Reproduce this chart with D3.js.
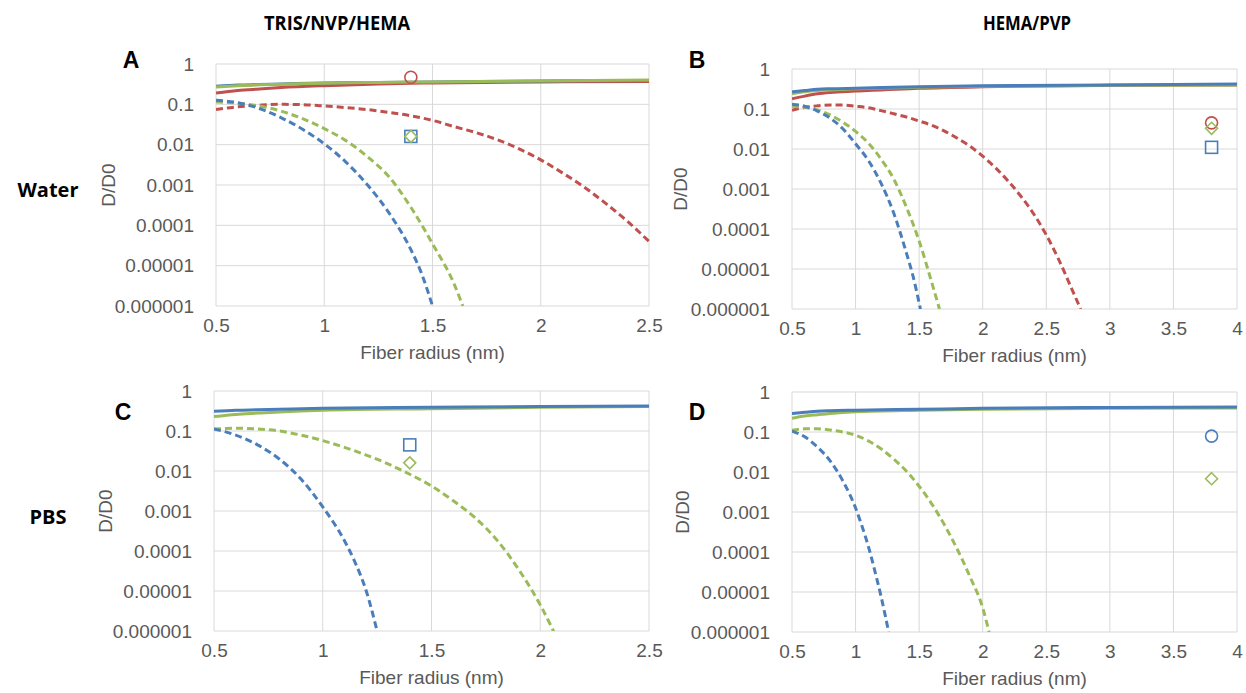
<!DOCTYPE html>
<html>
<head>
<meta charset="utf-8">
<script src="https://cdn.jsdelivr.net/npm/d3@7"></script>
<style>
  body { margin: 0; background: #fff; }
  svg { display: block; }
</style>
</head>
<body>
<div id="chart"></div>
<script>
// ---- data (D/D0 vs fiber radius in nm) ----

// tick labels
var yTickValues = [1, 0.1, 0.01, 0.001, 0.0001, 0.00001, 0.000001];
var yTickLabels = ["1", "0.1", "0.01", "0.001", "0.0001", "0.00001", "0.000001"];
var xTicksShort = [0.5, 1, 1.5, 2, 2.5];
var xTicksLong = [0.5, 1, 1.5, 2, 2.5, 3, 3.5, 4];

// Panel A: TRIS/NVP/HEMA in water
var solidXA = [0.5, 0.6, 0.7, 0.8, 1, 1.25, 1.5, 2, 2.5];
var solidBlueA = [0.28, 0.30, 0.31, 0.32, 0.34, 0.35, 0.36, 0.38, 0.39];
var solidGreenA = [0.27, 0.29, 0.305, 0.315, 0.335, 0.35, 0.36, 0.38, 0.40];
var solidRedA = [0.19, 0.22, 0.24, 0.26, 0.29, 0.32, 0.34, 0.36, 0.37];
var dashBlueXA = [0.5, 0.6, 0.7, 0.8, 0.9, 1.0, 1.1, 1.2, 1.3, 1.4, 1.45, 1.5];
var dashBlueA = [0.126, 0.11, 0.079, 0.047, 0.024, 0.0105, 0.0037, 0.001, 2.0e-4, 2.5e-5, 6.3e-6, 1.0e-6];
var dashGreenXA = [0.5, 0.6, 0.7, 0.8, 0.9, 1.0, 1.1, 1.2, 1.3, 1.4, 1.5, 1.6, 1.64];
var dashGreenA = [0.115, 0.107, 0.091, 0.068, 0.044, 0.025, 0.0126, 0.005, 0.00158, 2.8e-4, 3.5e-5, 3.5e-6, 1.0e-6];
var dashRedXA = [0.5, 0.6, 0.7, 0.8, 0.9, 1.0, 1.1, 1.2, 1.3, 1.4, 1.5, 1.6, 1.7, 1.8, 1.9, 2.0, 2.1, 2.2, 2.3, 2.4, 2.5];
var dashRedA = [0.074, 0.087, 0.095, 0.1, 0.098, 0.091, 0.083, 0.074, 0.063, 0.052, 0.04, 0.028, 0.02, 0.0132, 0.0079, 0.0042, 0.002, 8.9e-4, 3.5e-4, 1.26e-4, 4.0e-5];
var markersA = [
  {x: 1.4, y: 0.47, shape: "circle", color: "red"},
  {x: 1.4, y: 0.016, shape: "square", color: "blue"},
  {x: 1.4, y: 0.016, shape: "diamond", color: "green"}
];

// Panel B: HEMA/PVP in water
var solidXB = [0.5, 0.6, 0.7, 0.8, 1, 1.5, 2, 3, 4];
var solidBlueB = [0.27, 0.29, 0.31, 0.32, 0.33, 0.36, 0.38, 0.40, 0.42];
var solidGreenB = [0.24, 0.27, 0.29, 0.30, 0.32, 0.35, 0.37, 0.39, 0.40];
var solidRedB = [0.18, 0.21, 0.24, 0.26, 0.28, 0.33, 0.36, 0.39, 0.40];
var dashBlueXB = [0.5, 0.6, 0.7, 0.8, 0.9, 1.0, 1.1, 1.2, 1.3, 1.4, 1.45, 1.51];
var dashBlueB = [0.132, 0.117, 0.089, 0.059, 0.032, 0.0135, 0.0052, 0.0014, 2.5e-4, 2.5e-5, 7.0e-6, 1.0e-6];
var dashGreenXB = [0.5, 0.6, 0.7, 0.8, 0.9, 1.0, 1.1, 1.2, 1.3, 1.4, 1.5, 1.6, 1.66];
var dashGreenB = [0.117, 0.11, 0.095, 0.071, 0.047, 0.0275, 0.0141, 0.0056, 0.00178, 3.5e-4, 5.0e-5, 4.5e-6, 1.0e-6];
var dashRedXB = [0.5, 0.6, 0.7, 0.8, 0.9, 1.0, 1.1, 1.2, 1.3, 1.4, 1.5, 1.6, 1.7, 1.8, 1.9, 2.0, 2.1, 2.2, 2.3, 2.4, 2.5, 2.6, 2.7, 2.77];
var dashRedB = [0.093, 0.11, 0.12, 0.126, 0.126, 0.117, 0.107, 0.091, 0.076, 0.063, 0.05, 0.039, 0.028, 0.0186, 0.0117, 0.0066, 0.0034, 0.00158, 6.6e-4, 2.4e-4, 7.1e-5, 1.66e-5, 3.2e-6, 1.0e-6];
var markersB = [
  {x: 3.8, y: 0.045, shape: "circle", color: "red"},
  {x: 3.8, y: 0.033, shape: "diamond", color: "green"},
  {x: 3.8, y: 0.011, shape: "square", color: "blue"}
];

// Panel C: TRIS/NVP/HEMA in PBS
var solidXC = [0.5, 0.6, 0.7, 0.8, 1, 1.5, 2, 2.5];
var solidBlueC = [0.31, 0.33, 0.34, 0.35, 0.37, 0.39, 0.41, 0.42];
var solidGreenC = [0.23, 0.26, 0.28, 0.30, 0.33, 0.36, 0.39, 0.41];
var dashBlueXC = [0.5, 0.6, 0.7, 0.8, 0.9, 1.0, 1.1, 1.15, 1.2, 1.25];
var dashBlueC = [0.112, 0.079, 0.045, 0.02, 0.0063, 0.00126, 1.8e-4, 5.0e-5, 1.0e-5, 1.0e-6];
var dashGreenXC = [0.5, 0.6, 0.7, 0.8, 0.9, 1.0, 1.1, 1.2, 1.3, 1.4, 1.5, 1.6, 1.7, 1.8, 1.9, 2.0, 2.1];
var dashGreenC = [0.112, 0.117, 0.112, 0.1, 0.079, 0.0575, 0.039, 0.025, 0.0151, 0.0083, 0.0042, 0.0018, 6.8e-4, 1.9e-4, 3.5e-5, 4.5e-6, 3.5e-7];
var markersC = [
  {x: 1.4, y: 0.045, shape: "square", color: "blue"},
  {x: 1.4, y: 0.016, shape: "diamond", color: "green"}
];

// Panel D: HEMA/PVP in PBS
var solidXD = [0.5, 0.6, 0.7, 0.8, 1, 1.5, 2, 3, 4];
var solidBlueD = [0.29, 0.31, 0.33, 0.34, 0.35, 0.37, 0.39, 0.41, 0.42];
var solidGreenD = [0.22, 0.25, 0.27, 0.29, 0.32, 0.35, 0.37, 0.39, 0.40];
var dashBlueXD = [0.5, 0.6, 0.7, 0.8, 0.9, 1.0, 1.05, 1.1, 1.15, 1.2, 1.26];
var dashBlueD = [0.105, 0.076, 0.042, 0.019, 0.006, 0.00126, 4.5e-4, 1.4e-4, 3.5e-5, 7.9e-6, 1.0e-6];
var dashGreenXD = [0.5, 0.6, 0.7, 0.8, 0.9, 1.0, 1.1, 1.2, 1.3, 1.4, 1.5, 1.6, 1.7, 1.8, 1.9, 2.0, 2.05];
var dashGreenD = [0.11, 0.12, 0.12, 0.112, 0.1, 0.083, 0.06, 0.038, 0.021, 0.0105, 0.0044, 0.00158, 4.7e-4, 1.17e-4, 2.4e-5, 4.0e-6, 1.0e-6];
var markersD = [
  {x: 3.8, y: 0.079, shape: "circle", color: "blue"},
  {x: 3.8, y: 0.0068, shape: "diamond", color: "green"}
];

// ---- styling ----
var colors = {blue: "#4a7ebb", green: "#9bbb59", red: "#c0504d"};
var tickFont = "'Liberation Sans', Arial, sans-serif";
var titleFont = "'Open Sans', 'Liberation Sans', Arial, sans-serif";

var svg = d3.select("#chart")
  .append("svg")
  .attr("width", 1246)
  .attr("height", 693);

svg.append("rect").attr("width", 1246).attr("height", 693).attr("fill", "#fff");

// zip x and y arrays into point objects
function pts(xs, ys) {
  return xs.map(function (x, i) { return {x: x, y: ys[i]}; });
}

function DrawPanel(o) {
  var x = d3.scaleLinear().domain([0.5, o.xMax]).range([o.left, o.right]);
  var y = d3.scaleLog().domain([1e-6, 1]).range([o.bottom, o.top]);
  var g = svg.append("g");

  // gridlines
  g.append("g").selectAll("line.h")
    .data(yTickValues).enter().append("line")
    .attr("x1", o.left).attr("x2", o.right)
    .attr("y1", function (d) { return y(d); })
    .attr("y2", function (d) { return y(d); })
    .attr("stroke", "#d9d9d9").attr("stroke-width", 1);
  g.append("g").selectAll("line.v")
    .data(o.xTicks).enter().append("line")
    .attr("y1", o.top).attr("y2", o.bottom)
    .attr("x1", function (d) { return x(d); })
    .attr("x2", function (d) { return x(d); })
    .attr("stroke", "#d9d9d9").attr("stroke-width", 1);

  // axes: labels only, no axis lines
  var yAxis = d3.axisLeft(y).tickValues(yTickValues)
    .tickFormat(function (d, i) { return yTickLabels[i]; })
    .tickSize(0).tickPadding(22);
  var ya = g.append("g").attr("transform", "translate(" + o.left + ",0)").call(yAxis);
  ya.select(".domain").remove();
  ya.selectAll("text").attr("font-family", tickFont).attr("font-size", 19).attr("fill", "#595959");

  var xAxis = d3.axisBottom(x).tickValues(o.xTicks)
    .tickFormat(d3.format("")).tickSize(0).tickPadding(13);
  var xa = g.append("g").attr("transform", "translate(0," + o.bottom + ")").call(xAxis);
  xa.select(".domain").remove();
  xa.selectAll("text").attr("font-family", tickFont).attr("font-size", 19).attr("fill", "#595959");

  // axis titles
  g.append("text")
    .attr("x", (o.left + o.right) / 2).attr("y", o.bottom + 53)
    .attr("text-anchor", "middle")
    .attr("font-family", tickFont).attr("font-size", 19).attr("fill", "#595959")
    .text("Fiber radius (nm)");
  g.append("text")
    .attr("transform", "translate(" + (o.left - o.yTitleOff) + "," + ((o.top + o.bottom) / 2) + ") rotate(-90)")
    .attr("text-anchor", "middle").attr("dy", "0.35em")
    .attr("font-family", tickFont).attr("font-size", 19).attr("fill", "#595959")
    .text("D/D0");

  // panel letter
  g.append("text")
    .attr("x", o.letterX).attr("y", o.letterY).attr("dy", "0.35em")
    .attr("text-anchor", "middle")
    .attr("font-family", "'Liberation Sans', Arial, sans-serif").attr("font-weight", "bold")
    .attr("font-size", 23).attr("fill", "#000")
    .text(o.letter);

  // clip the curves to the plot area
  var clipId = "clip" + o.letter;
  svg.append("clipPath").attr("id", clipId)
    .append("rect")
    .attr("x", o.left).attr("y", o.top - 4)
    .attr("width", o.right - o.left + 1).attr("height", o.bottom - o.top + 4);

  var line = d3.line()
    .x(function (d) { return x(d.x); })
    .y(function (d) { return y(d.y); })
    .curve(d3.curveMonotoneX);

  var lines = g.append("g").attr("clip-path", "url(#" + clipId + ")");
  o.dashed.forEach(function (s) {
    lines.append("path")
      .attr("d", line(s.points))
      .attr("fill", "none")
      .attr("stroke", colors[s.color])
      .attr("stroke-width", 3)
      .attr("stroke-dasharray", "7,4");
  });
  o.solid.forEach(function (s) {
    lines.append("path")
      .attr("d", line(s.points))
      .attr("fill", "none")
      .attr("stroke", colors[s.color])
      .attr("stroke-width", 3);
  });

  // open markers for measured values
  var mk = g.append("g");
  o.markers.forEach(function (m) {
    var cx = x(m.x), cy = y(m.y);
    if (m.shape === "circle") {
      mk.append("circle").attr("cx", cx).attr("cy", cy).attr("r", 6);
    } else if (m.shape === "square") {
      mk.append("rect").attr("x", cx - 6).attr("y", cy - 6).attr("width", 12).attr("height", 12);
    } else {
      mk.append("path").attr("d", "M" + cx + "," + (cy - 6) + "L" + (cx + 6) + "," + cy +
        "L" + cx + "," + (cy + 6) + "L" + (cx - 6) + "," + cy + "Z");
    }
    mk.selectAll(":last-child")
      .attr("fill", "none").attr("stroke", colors[m.color]).attr("stroke-width", 1.6);
  });
}

DrawPanel({
  letter: "A", letterX: 131, letterY: 60,
  left: 216, right: 649, top: 64, bottom: 306, xMax: 2.5, xTicks: xTicksShort, yTitleOff: 108,
  solid: [
    {color: "red", points: pts(solidXA, solidRedA)},
    {color: "blue", points: pts(solidXA, solidBlueA)},
    {color: "green", points: pts(solidXA, solidGreenA)}
  ],
  dashed: [
    {color: "red", points: pts(dashRedXA, dashRedA)},
    {color: "green", points: pts(dashGreenXA, dashGreenA)},
    {color: "blue", points: pts(dashBlueXA, dashBlueA)}
  ],
  markers: markersA
});

DrawPanel({
  letter: "B", letterX: 697, letterY: 60,
  left: 792, right: 1237, top: 69, bottom: 309, xMax: 4, xTicks: xTicksLong, yTitleOff: 112,
  solid: [
    {color: "red", points: pts(solidXB, solidRedB)},
    {color: "green", points: pts(solidXB, solidGreenB)},
    {color: "blue", points: pts(solidXB, solidBlueB)}
  ],
  dashed: [
    {color: "red", points: pts(dashRedXB, dashRedB)},
    {color: "green", points: pts(dashGreenXB, dashGreenB)},
    {color: "blue", points: pts(dashBlueXB, dashBlueB)}
  ],
  markers: markersB
});

DrawPanel({
  letter: "C", letterX: 123, letterY: 412,
  left: 214, right: 649, top: 391, bottom: 631, xMax: 2.5, xTicks: xTicksShort, yTitleOff: 109,
  solid: [
    {color: "green", points: pts(solidXC, solidGreenC)},
    {color: "blue", points: pts(solidXC, solidBlueC)}
  ],
  dashed: [
    {color: "green", points: pts(dashGreenXC, dashGreenC)},
    {color: "blue", points: pts(dashBlueXC, dashBlueC)}
  ],
  markers: markersC
});

DrawPanel({
  letter: "D", letterX: 697, letterY: 412,
  left: 792, right: 1237, top: 392, bottom: 632, xMax: 4, xTicks: xTicksLong, yTitleOff: 110,
  solid: [
    {color: "green", points: pts(solidXD, solidGreenD)},
    {color: "blue", points: pts(solidXD, solidBlueD)}
  ],
  dashed: [
    {color: "green", points: pts(dashGreenXD, dashGreenD)},
    {color: "blue", points: pts(dashBlueXD, dashBlueD)}
  ],
  markers: markersD
});

// column and row headers
svg.append("text").attr("x", 337).attr("y", 30).attr("text-anchor", "middle")
  .attr("font-family", titleFont).attr("font-weight", "bold").attr("font-size", 20)
  .attr("textLength", 146).attr("lengthAdjust", "spacingAndGlyphs")
  .text("TRIS/NVP/HEMA");
svg.append("text").attr("x", 1027).attr("y", 30).attr("text-anchor", "middle")
  .attr("font-family", titleFont).attr("font-weight", "bold").attr("font-size", 20)
  .attr("textLength", 88).attr("lengthAdjust", "spacingAndGlyphs")
  .text("HEMA/PVP");
svg.append("text").attr("x", 48).attr("y", 197).attr("text-anchor", "middle")
  .attr("font-family", titleFont).attr("font-weight", "bold").attr("font-size", 20)
  .text("Water");
svg.append("text").attr("x", 48).attr("y", 524).attr("text-anchor", "middle")
  .attr("font-family", titleFont).attr("font-weight", "bold").attr("font-size", 20)
  .text("PBS");
</script>
</body>
</html>
